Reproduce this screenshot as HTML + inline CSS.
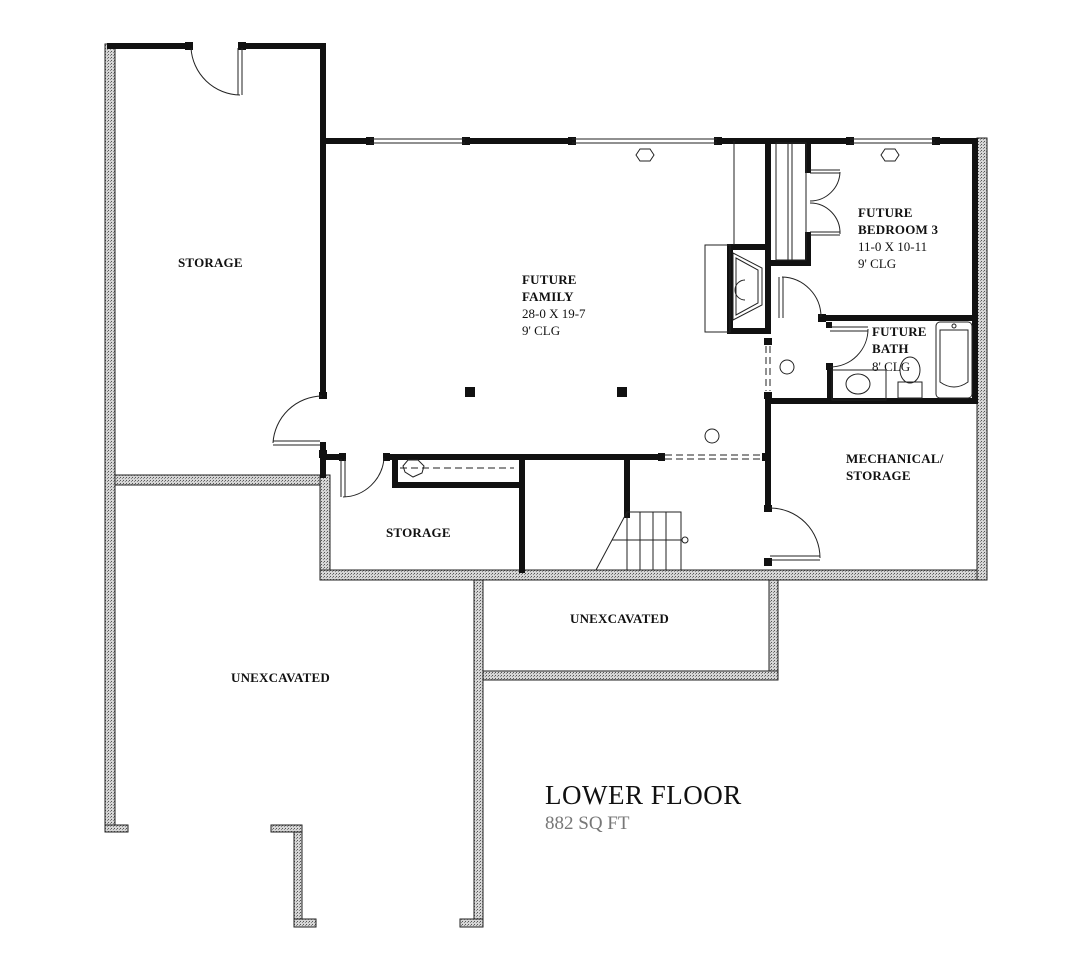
<!DOCTYPE html>
<html><head><style>
html,body{margin:0;padding:0;background:#fff;}
svg{display:block;}
text{font-family:"Liberation Serif",serif;fill:#111;}
.t{font-size:13px;font-weight:bold;letter-spacing:0.2px;}
.s{font-size:13px;}
</style></head><body>
<svg width="1089" height="971" viewBox="0 0 1089 971" xmlns="http://www.w3.org/2000/svg">
<defs>
<pattern id="st" width="3" height="3" patternUnits="userSpaceOnUse">
<rect width="3" height="3" fill="#d6d6d6"/><rect x="0" y="0" width="1" height="1" fill="#555"/><rect x="2" y="1" width="1" height="1" fill="#888"/>
</pattern>
</defs>
<g fill="url(#st)" stroke="#222" stroke-width="1">
<rect x="105" y="44" width="10" height="788"/>
<rect x="105" y="825" width="23" height="7"/>
<rect x="115" y="475" width="215" height="10"/>
<rect x="320" y="475" width="10" height="105"/>
<rect x="320" y="570" width="667" height="10"/>
<rect x="977" y="138" width="10" height="442"/>
<rect x="474" y="580" width="9" height="347"/>
<rect x="460" y="919" width="23" height="8"/>
<rect x="769" y="580" width="9" height="100"/>
<rect x="483" y="671" width="295" height="9"/>
<rect x="271" y="825" width="31" height="7"/>
<rect x="294" y="832" width="8" height="95"/>
<rect x="294" y="919" width="22" height="8"/>
</g>
<g stroke="#111" stroke-width="6" fill="none" stroke-linecap="square">
<line x1="110" y1="46" x2="188" y2="46"/>
<line x1="242" y1="46" x2="323" y2="46"/>
<line x1="323" y1="46" x2="323" y2="395"/>
<line x1="323" y1="141" x2="370" y2="141"/>
<line x1="465" y1="141" x2="572" y2="141"/>
<line x1="717" y1="141" x2="850" y2="141"/>
<line x1="935" y1="141" x2="975" y2="141"/>
<line x1="975" y1="141" x2="975" y2="401"/>
<line x1="323" y1="445" x2="323" y2="475"/>
<line x1="323" y1="457" x2="342" y2="457"/>
<line x1="388" y1="457" x2="520" y2="457"/>
<line x1="395" y1="457" x2="395" y2="485"/>
<line x1="395" y1="485" x2="518" y2="485"/>
<line x1="522" y1="457" x2="522" y2="570"/>
<line x1="522" y1="457" x2="662" y2="457"/>
<line x1="627" y1="457" x2="627" y2="515"/>
<line x1="768" y1="141" x2="768" y2="330"/>
<line x1="768" y1="395" x2="768" y2="508"/>
<line x1="808" y1="141" x2="808" y2="170"/>
<line x1="808" y1="235" x2="808" y2="263"/>
<line x1="768" y1="263" x2="808" y2="263"/>
<line x1="822" y1="318" x2="975" y2="318"/>
<line x1="830" y1="367" x2="830" y2="400"/>
<line x1="768" y1="401" x2="975" y2="401"/>
<line x1="730" y1="247" x2="768" y2="247"/>
<line x1="730" y1="331" x2="768" y2="331"/>
<line x1="730" y1="247" x2="730" y2="331"/>
</g>
<g fill="#111">
<rect x="185" y="42" width="8" height="8"/><rect x="238" y="42" width="8" height="8"/>
<rect x="366" y="137" width="8" height="8"/><rect x="462" y="137" width="8" height="8"/>
<rect x="568" y="137" width="8" height="8"/><rect x="714" y="137" width="8" height="8"/>
<rect x="846" y="137" width="8" height="8"/><rect x="932" y="137" width="8" height="8"/>
<rect x="319" y="392" width="8" height="7"/><rect x="319" y="450" width="8" height="8"/>
<rect x="339" y="453" width="7" height="8"/><rect x="383" y="453" width="7" height="8"/>
<rect x="465" y="387" width="10" height="10"/><rect x="617" y="387" width="10" height="10"/>
<rect x="658" y="453" width="7" height="8"/><rect x="762" y="453" width="8" height="8"/>
<rect x="764" y="338" width="8" height="7"/><rect x="764" y="392" width="8" height="7"/>
<rect x="764" y="505" width="8" height="7"/><rect x="764" y="558" width="8" height="8"/>
<rect x="818" y="314" width="8" height="8"/><rect x="826" y="322" width="6" height="6"/>
<rect x="826" y="363" width="7" height="7"/>
</g>
<g stroke="#222" stroke-width="1" fill="none">
<line x1="370" y1="139" x2="465" y2="139"/><line x1="370" y1="143" x2="465" y2="143"/>
<line x1="572" y1="139" x2="717" y2="139"/><line x1="572" y1="143" x2="717" y2="143"/>
<line x1="850" y1="139" x2="935" y2="139"/><line x1="850" y1="143" x2="935" y2="143"/>
<polygon points="640,149 650,149 654,155 650,161 640,161 636,155"/>
<polygon points="885,149 895,149 899,155 895,161 885,161 881,155"/>
<line x1="238" y1="48" x2="238" y2="95"/><line x1="242" y1="48" x2="242" y2="95"/>
<path d="M191,48 A50,50 0 0 0 240,95"/>
<line x1="273" y1="441" x2="320" y2="441"/><line x1="273" y1="445" x2="320" y2="445"/>
<path d="M322,396 A50,50 0 0 0 273,443"/>
<line x1="341" y1="459" x2="341" y2="497"/><line x1="345" y1="459" x2="345" y2="497"/>
<path d="M384,458 A42,42 0 0 1 343,497"/>
<line x1="770" y1="556" x2="820" y2="556"/><line x1="770" y1="560" x2="820" y2="560"/>
<path d="M770,508 A50,50 0 0 1 820,558"/>
<line x1="779" y1="277" x2="779" y2="318"/><line x1="783" y1="277" x2="783" y2="318"/>
<path d="M782,277 A40,40 0 0 1 821,317"/>
<line x1="830" y1="327" x2="868" y2="327"/><line x1="830" y1="331" x2="868" y2="331"/>
<path d="M868,329 A38,38 0 0 1 830,367"/>
<line x1="810" y1="170" x2="840" y2="170"/><line x1="810" y1="173" x2="840" y2="173"/>
<line x1="810" y1="232" x2="840" y2="232"/><line x1="810" y1="235" x2="840" y2="235"/>
<path d="M840,172 A30,30 0 0 1 810,201"/><path d="M840,234 A30,30 0 0 0 810,203"/>
<rect x="776" y="143" width="30" height="117"/>
<line x1="788" y1="143" x2="788" y2="260"/><line x1="792" y1="143" x2="792" y2="260"/>
<line x1="665" y1="455" x2="762" y2="455" stroke-dasharray="7,4"/>
<line x1="665" y1="459" x2="762" y2="459" stroke-dasharray="7,4"/>
<line x1="766" y1="346" x2="766" y2="391" stroke-dasharray="7,4"/>
<line x1="770" y1="346" x2="770" y2="391" stroke-dasharray="7,4"/>
<line x1="400" y1="468" x2="514" y2="468" stroke-dasharray="7,4"/>
<polygon points="408,460 418,460 424,466 422,473 413,477 405,472 403,466"/>
<line x1="734" y1="141" x2="734" y2="245"/>
<rect x="705" y="245" width="25" height="87"/>
<polygon points="733,253 762,268 762,305 733,320"/>
<polygon points="736,258 758,270 758,303 736,315"/>
<path d="M745,280 A10,10 0 0 0 745,300"/>
<rect x="627" y="512" width="54" height="58"/>
<line x1="640" y1="512" x2="640" y2="570"/><line x1="653" y1="512" x2="653" y2="570"/>
<line x1="666" y1="512" x2="666" y2="570"/>
<line x1="627" y1="512" x2="596" y2="570"/>
<line x1="612" y1="540" x2="682" y2="540"/>
<circle cx="685" cy="540" r="3"/>
<circle cx="712" cy="436" r="7"/><circle cx="787" cy="367" r="7"/>
<rect x="936" y="322" width="36" height="76" rx="4"/>
<path d="M940,330 L968,330 L968,382 Q954,392 940,382 Z"/>
<circle cx="954" cy="326" r="2"/>
<rect x="832" y="370" width="54" height="30"/>
<ellipse cx="858" cy="384" rx="12" ry="10"/>
<rect x="898" y="382" width="24" height="16"/>
<ellipse cx="910" cy="370" rx="10" ry="13"/>
</g>
<text class="t" x="178" y="267">STORAGE</text>
<text class="t" x="522" y="284">FUTURE</text>
<text class="t" x="522" y="301">FAMILY</text>
<text class="s" x="522" y="318">28-0 X 19-7</text>
<text class="s" x="522" y="335">9' CLG</text>
<text class="t" x="858" y="217">FUTURE</text>
<text class="t" x="858" y="234">BEDROOM 3</text>
<text class="s" x="858" y="251">11-0 X 10-11</text>
<text class="s" x="858" y="268">9' CLG</text>
<text class="t" x="872" y="336">FUTURE</text>
<text class="t" x="872" y="353">BATH</text>
<text class="s" x="872" y="371">8' CLG</text>
<text class="t" x="846" y="463">MECHANICAL/</text>
<text class="t" x="846" y="480">STORAGE</text>
<text class="t" x="386" y="537">STORAGE</text>
<text class="t" x="231" y="682">UNEXCAVATED</text>
<text class="t" x="570" y="623">UNEXCAVATED</text>
<text x="545" y="804" style="font-size:27px;letter-spacing:0.5px">LOWER FLOOR</text>
<text x="545" y="829" style="font-size:19px;fill:#777">882 SQ FT</text>
</svg>
</body></html>
